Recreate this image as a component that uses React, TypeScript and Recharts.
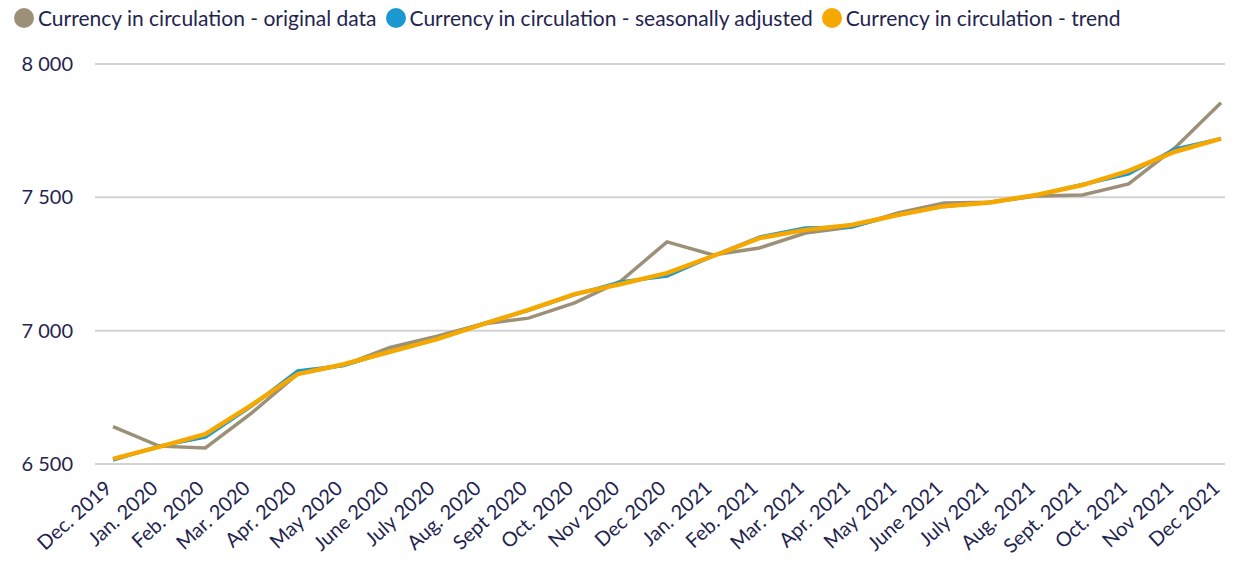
import { LineChart, Line, XAxis, YAxis, CartesianGrid } from 'recharts'

const months = [
  'Dec. 2019', 'Jan. 2020', 'Feb. 2020', 'Mar. 2020', 'Apr. 2020', 'May 2020', 'June 2020',
  'July 2020', 'Aug. 2020', 'Sept 2020', 'Oct. 2020', 'Nov 2020', 'Dec 2020', 'Jan. 2021',
  'Feb. 2021', 'Mar. 2021', 'Apr. 2021', 'May 2021', 'June 2021', 'July 2021', 'Aug. 2021',
  'Sept. 2021', 'Oct. 2021', 'Nov 2021', 'Dec 2021',
]

const original = [
  6640, 6567, 6560, 6691, 6838, 6871, 6937, 6978, 7025, 7047, 7104, 7186, 7333, 7284,
  7310, 7366, 7389, 7441, 7479, 7482, 7505, 7509, 7550, 7685, 7855,
]

const seasonal = [
  6515, 6567, 6601, 6717, 6849, 6869, 6923, 6968, 7025, 7076, 7135, 7183, 7205, 7280,
  7351, 7385, 7389, 7436, 7466, 7482, 7508, 7548, 7588, 7681, 7720,
]

const trend = [
  6519, 6564, 6612, 6721, 6837, 6874, 6921, 6967, 7024, 7078, 7137, 7175, 7216, 7280,
  7347, 7378, 7396, 7434, 7467, 7481, 7509, 7546, 7599, 7671, 7720,
]

const yTicks = [6500, 7000, 7500, 8000]

const data = months.map((m, i) => ({
  month: m, original: original[i], seasonal: seasonal[i], trend: trend[i],
}))

const series = [
  { key: 'original', label: 'Currency in circulation - original data', color: '#9c9078', width: 3.5 },
  { key: 'seasonal', label: 'Currency in circulation - seasonally adjusted', color: '#1b98d1', width: 3.5 },
  { key: 'trend', label: 'Currency in circulation - trend', color: '#f5a800', width: 4.5 },
]

const textColor = '#1f2550'
const font = 'Lato, "Noto Sans", sans-serif'

const fmt = (v: number) => String(v).replace(/\B(?=(\d{3})+(?!\d))/g, ' ')

function MonthTick({ x, y, payload }: any) {
  return (
    <text x={x} y={y + 26} transform={`rotate(-42, ${x}, ${y + 26})`}
      textAnchor="end" fontSize={20} fill={textColor} fontFamily={font}>
      {payload.value}
    </text>
  )
}

export default function App() {
  return (
    <div style={{ position: 'absolute', left: 0, top: 0, width: 1245, height: 572, background: '#fff' }}>
      <div style={{
        position: 'absolute', left: 14, top: 5, display: 'flex', gap: 9,
        fontFamily: font, fontSize: 21, color: textColor, whiteSpace: 'nowrap',
      }}>
        {series.map(s => (
          <div key={s.key} style={{ display: 'flex', alignItems: 'center' }}>
            <span style={{
              width: 20, height: 20, borderRadius: '50%', background: s.color,
              display: 'inline-block', marginRight: 4,
            }} />
            {s.label}
          </div>
        ))}
      </div>
      <LineChart width={1245} height={572} data={data}
        margin={{ top: 64, right: 20, bottom: 0, left: 0 }}>
        <CartesianGrid vertical={false} stroke="#d3d3d3" strokeWidth={2} />
        <XAxis dataKey="month" interval={0} axisLine={false} tickLine={false}
          tickSize={0} tickMargin={0} height={108} padding={{ left: 18, right: 4 }}
          tick={<MonthTick />} />
        <YAxis domain={[6500, 8000]} ticks={yTicks} width={95} axisLine={false}
          tickLine={false} tickSize={0} tickMargin={22} tickFormatter={fmt}
          tick={{ fontSize: 20, fill: textColor, fontFamily: font }} />
        {series.map(s => (
          <Line key={s.key} type="linear" dataKey={s.key} stroke={s.color}
            strokeWidth={s.width} dot={false} isAnimationActive={false} />
        ))}
      </LineChart>
    </div>
  )
}
